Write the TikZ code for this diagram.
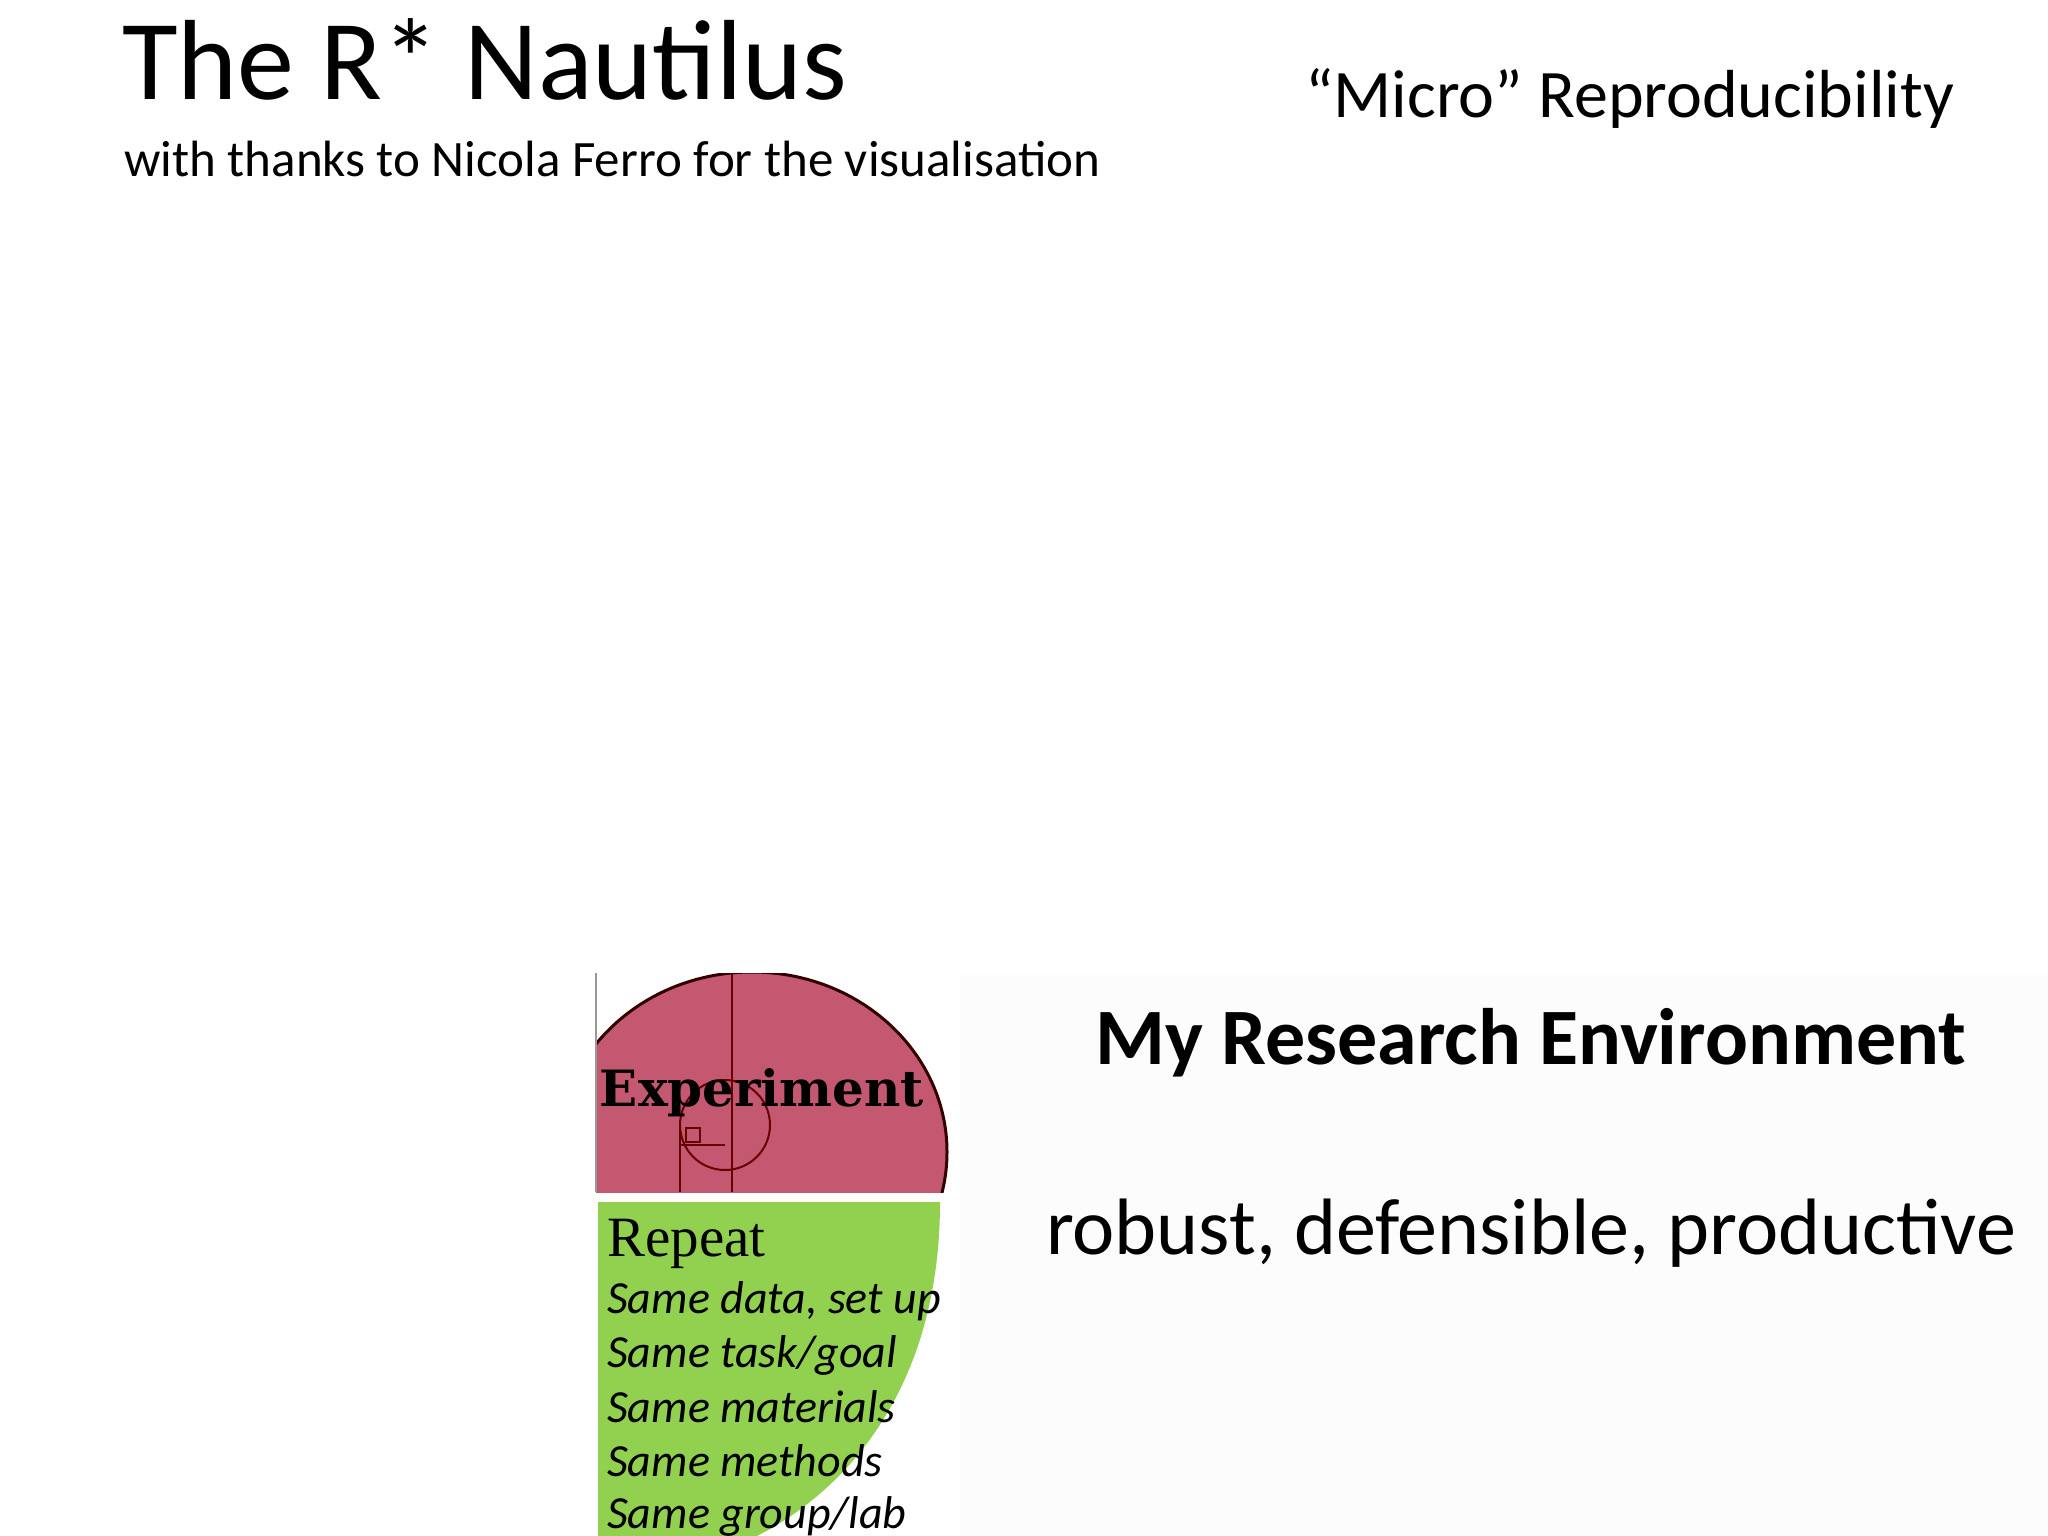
\documentclass[tikz,border=0pt]{standalone}
\usepackage{fontspec}
\setmainfont{Carlito}
\newfontfamily\serifx{Liberation Serif}
\newfontfamily\slab{DejaVu Serif}
\definecolor{pinkx}{RGB}{196,88,112}
\definecolor{greenx}{RGB}{146,208,80}
\definecolor{panel}{RGB}{252,252,252}
\tikzset{txt/.style={inner sep=0pt,anchor=base west}}
\begin{document}
\begin{tikzpicture}[x=1pt,y=-1pt]
\useasboundingbox (0,0) rectangle (2048,1536);
\fill[white] (0,0) rectangle (2048,1536);
\fill[panel] (960,975) rectangle (2048,1536);
\node[txt] (title) at (122,100) {\fontsize{114}{126}\selectfont The R* Nautilus};
\node[txt] (sub) at (124,176) {\fontsize{51}{60}\selectfont with thanks to Nicola Ferro for the visualisation};
\node[txt] (micro) at (1305,118) {\fontsize{68}{80}\selectfont “Micro” Reproducibility};
% pink image
\begin{scope}
\clip (596,973) rectangle (953,1192);
\fill[pinkx,draw=black!80!red,line width=3] (752,1152) ellipse [x radius=195, y radius=180];
\draw[black!60!red,line width=2] (732,973) -- (732,1192);
\draw[black!60!red,line width=2] (680,1125) -- (680,1192);
\draw[black!60!red,line width=2] (680,1125) arc[start angle=180,end angle=360,radius=45];
\draw[black!60!red,line width=2] (680,1125) arc[start angle=180,end angle=0,radius=45];
\draw[black!60!red,line width=1.5] (680,1145) -- (725,1145);
\draw[black!60!red,line width=1.5] (686,1128) rectangle (700,1142);
\end{scope}
\draw[black!40,line width=1.5] (596,973) -- (596,1192);
\node[inner sep=0pt] (exp) at (762,1093) {\slab\bfseries\fontsize{50}{56}\selectfont Experiment};
% green shape
\fill[greenx] (598,1202) -- (940,1202) .. controls (940,1385) and (849,1489) .. (757,1536) -- (598,1536) -- cycle;
\node[txt] (rep) at (607,1256) {\serifx\fontsize{57}{64}\selectfont Repeat};
\node[txt] (l1) at (607,1313) {\itshape\fontsize{46}{54}\selectfont Same data, set up};
\node[txt] (l2) at (607,1367) {\itshape\fontsize{46}{54}\selectfont Same task/goal};
\node[txt] (l3) at (607,1422) {\itshape\fontsize{46}{54}\selectfont Same materials};
\node[txt] (l4) at (607,1476) {\itshape\fontsize{46}{54}\selectfont Same methods};
\node[txt] (l5) at (607,1528) {\itshape\fontsize{46}{54}\selectfont Same group/lab};
\node[inner sep=0pt,anchor=base] (env) at (1531,1064) {\bfseries\fontsize{80}{90}\selectfont My Research Environment};
\node[inner sep=0pt,anchor=base] (rob) at (1531,1254) {\fontsize{80}{90}\selectfont robust, defensible, productive};
\end{tikzpicture}
\end{document}
